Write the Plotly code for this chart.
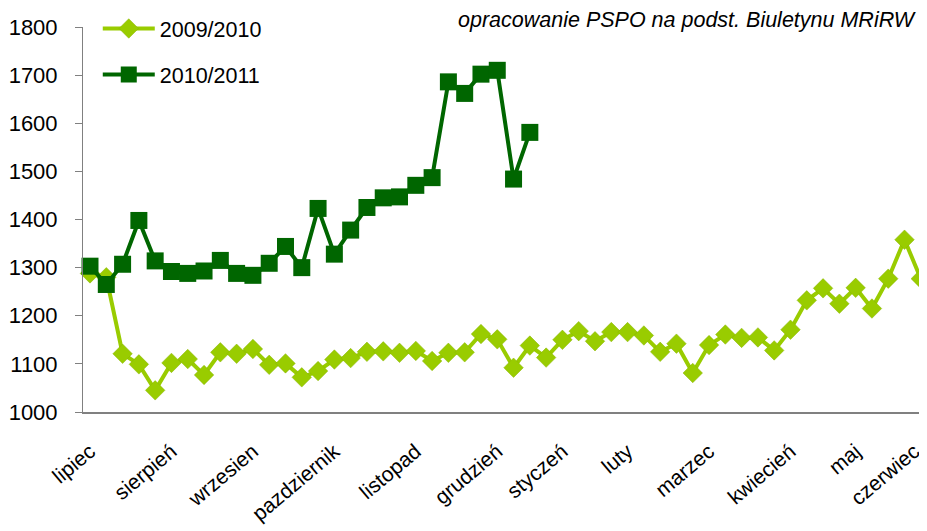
import plotly.graph_objects as go

# Weekly prices (zł/t) – season July..June
season_2009_2010 = [1288, 1280, 1121, 1099, 1045, 1102, 1110, 1077, 1124, 1121,
                    1131, 1098, 1101, 1072, 1085, 1109, 1112, 1125, 1126, 1123,
                    1127, 1106, 1123, 1124, 1162, 1151, 1092, 1138, 1113, 1150,
                    1168, 1147, 1166, 1166, 1159, 1125, 1142, 1081, 1139, 1161,
                    1154, 1155, 1128, 1171, 1232, 1257, 1225, 1258, 1215, 1277,
                    1358, 1277]
season_2010_2011 = [1303, 1265, 1307, 1398, 1314, 1292, 1288, 1293, 1315, 1288,
                    1284, 1309, 1344, 1300, 1423, 1328, 1378, 1425, 1445, 1447,
                    1471, 1487, 1686, 1662, 1702, 1710, 1484, 1581]

month_positions = [0, 5, 10, 15, 20, 25, 29, 33, 38, 43, 47, 50.6]
month_labels = ["lipiec", "sierpień", "wrzesien", "pazdziernik", "listopad",
                "grudzień", "styczeń", "luty", "marzec", "kwiecień", "maj", "czerwiec"]

y_ticks = [1000, 1100, 1200, 1300, 1400, 1500, 1600, 1700, 1800]

FONT = "Liberation Sans, Arial, sans-serif"
LIGHT = "#99CC00"
DARK = "#006600"

fig = go.Figure()
fig.add_trace(go.Scatter(
    x=list(range(len(season_2009_2010))), y=season_2009_2010,
    name="2009/2010", mode="lines+markers", legendgroup="a", cliponaxis=False,
    line=dict(color=LIGHT, width=4),
    marker=dict(symbol="diamond", size=15, color=LIGHT, line=dict(width=0.5, color="#88b400")),
))
fig.add_trace(go.Scatter(
    x=list(range(len(season_2010_2011))), y=season_2010_2011,
    name="2010/2011", mode="lines+markers", legendgroup="b", cliponaxis=False,
    line=dict(color=DARK, width=4),
    marker=dict(symbol="square", size=17, color=DARK, line=dict(width=0)),
))

fig.add_annotation(
    text="<i>opracowanie PSPO na podst. Biuletynu MRiRW</i>",
    xref="paper", yref="paper", x=0.989, y=1.0, xanchor="right", yanchor="middle",
    yshift=-12, showarrow=False, font=dict(family=FONT, size=21.5, color="#000000"),
)

# page body adds an 8px offset; figure is sized so the plot lands where the reference has it
W, H = 919, 523
B = 119
plot_h = H - B
top_frac = (plot_h - 19) / plot_h

fig.update_layout(
    width=W, height=H,
    margin=dict(l=75, r=0, t=0, b=B, pad=0),
    paper_bgcolor="white", plot_bgcolor="white",
    font=dict(family=FONT, color="#000000"),
    showlegend=True,
    legend=dict(
        x=0.0175, y=1.0, xanchor="left", yanchor="top",
        bgcolor="rgba(0,0,0,0)", font=dict(family=FONT, size=21.5),
        itemwidth=52, tracegroupgap=15, traceorder="grouped",
    ),
    xaxis=dict(
        range=[-0.43, 51.38], tickmode="array", automargin=False,
        tickvals=month_positions, ticktext=month_labels,
        tickangle=-40, ticks="", showgrid=False, zeroline=False,
        showline=True, linecolor="#808080", linewidth=2,
        tickfont=dict(family=FONT, size=21), ticklabelstandoff=17,
        ticklabeloverflow="allow",
    ),
    yaxis=dict(
        range=[1000, 1800], tickmode="array", tickvals=y_ticks, automargin=False,
        domain=[0, top_frac],
        ticks="outside", ticklen=7, tickcolor="#808080", tickwidth=1,
        showgrid=False, zeroline=False,
        showline=True, linecolor="#808080", linewidth=1,
        tickfont=dict(family=FONT, size=22), ticklabelstandoff=13,
    ),
)

fig.write_html("out.html")
